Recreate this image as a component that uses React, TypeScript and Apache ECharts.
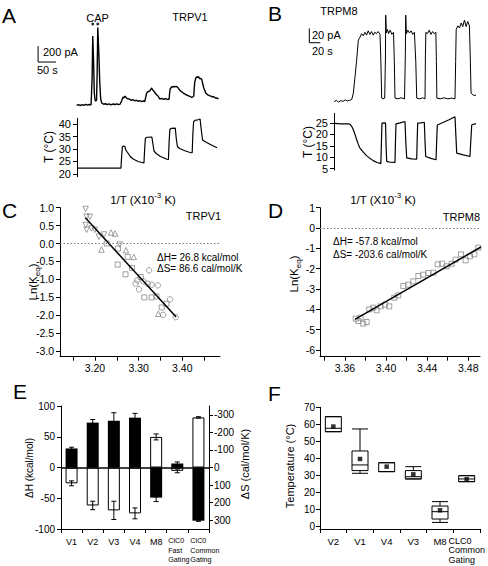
import React, { useEffect, useRef } from "react";
import * as echarts from "echarts";

const FONT = '"Liberation Sans", Arial, Helvetica, sans-serif';

// ---------------- Panel A : TRPV1 (time s, current pA, temperature °C) ----------------
const trpv1Current: [number, number][] = [
  [0, -6], [5, 4], [10, -8], [15, 6], [20, -4], [25, 8], [30, -2], [35, 6], [40, 2],
  [42.8, 312], [44.7, 862], [46.9, 562], [49, 150], [51.1, 62], [53, 50], [55.3, 62],
  [57, 420], [58.6, 969], [60.5, 760], [62.2, 562], [64, 300], [66.4, 88], [68.5, 40],
  [70.6, 19], [75, 10], [80, 16], [85, 4], [90, 14], [95, 2], [100, 12], [106.7, 6],
  [112, 14], [116, 4], [120.6, 10], [124.7, 50], [128.9, 100], [131, 88], [134.4, 112],
  [137, 94], [140, 81], [144, 76], [148.3, 69], [152, 58], [156, 66], [161.7, 52],
  [166, 60], [170, 46], [175, 56], [180, 42], [185, 50], [189, 44], [191.7, 100],
  [194.4, 150], [198, 168], [202.8, 175], [205.5, 196], [208.3, 212], [211, 188],
  [213.9, 176], [218, 150], [222.2, 125], [226, 112], [230.6, 75], [236, 82],
  [241.7, 70], [246, 80], [252.8, 69], [256.7, 75], [258, 150], [259.4, 200],
  [262, 218], [263.9, 230], [267, 222], [270, 236], [272.2, 226], [276, 232],
  [280.6, 220], [283, 205], [286.1, 188], [290, 170], [293, 160], [297.2, 144],
  [301, 135], [304, 126], [308.3, 119], [312, 110], [316, 104], [319.4, 94], [322, 100],
  [325, 112], [326.5, 220], [327.8, 288], [330.6, 338], [333, 350], [336.1, 344],
  [338, 356], [341.7, 325], [344, 334], [347.2, 320], [350, 262], [352.8, 212],
  [356, 178], [358, 150], [361.1, 138], [364, 126], [368, 118], [372.2, 112], [376, 100],
  [380, 104], [383.3, 94], [387, 82], [390, 88], [393.6, 75],
];
const trpv1Temperature: [number, number][] = [
  [0, 22.3], [60, 22.3], [122, 22.3], [124, 27], [126, 30.8], [129, 31.2], [133, 31],
  [136, 29.5], [139, 28.9], [148, 27], [157, 25.9], [170, 25], [186, 24.4], [188, 30],
  [190, 34.3], [195, 34.7], [208, 34.8], [211, 32], [214, 29.2], [220, 28.2], [232, 27],
  [250, 25.9], [254, 25.8], [256, 33], [258, 37.8], [262, 38.3], [273, 38.4], [276, 34],
  [279, 31], [285, 30.2], [300, 29.3], [316, 28.5], [320, 28.5], [322, 36], [324, 41],
  [330, 41.6], [336, 41.7], [342, 42], [345, 38], [349, 33.6], [360, 32.6], [375, 31.5],
  [389, 30.5],
];
const capMarkTimes = [44.7, 58.6];
const trpv1ScaleBar = { pA: 200, s: 50 };
const aTempTicks = [20, 25, 30, 35, 40];

// ---------------- Panel B : TRPM8 ----------------
const trpm8Current: [number, number][] = [
  [2, -1], [6, 1], [10, -1.5], [14, 0.5], [18, -0.5], [22, 1.5], [26, 0], [30, 1], [34, 2],
  [37, 11], [40, 34], [43, 57], [46, 85], [49, 89], [52, 94], [55, 91], [58, 96], [61, 92],
  [64, 98], [67, 93], [70, 97], [73, 92], [76, 96], [79, 94], [82, 97], [85.5, 93],
  [87, 55], [88.5, 4], [91, 3], [94, 4], [95.3, 60], [95.8, 120], [97, 95], [99, 100],
  [101, 94], [104, 99], [107, 93], [110, 96], [111.5, 55], [112.7, 4], [118, 3],
  [124, 4.5], [130, 3], [131.5, 64], [132.2, 120], [133.5, 94], [136, 99], [139, 95],
  [142, 98], [145, 93], [148, 96], [150.5, 55], [152.2, 4], [158, 3], [163, 4.5],
  [167.3, 3], [168, 64], [168.8, 96], [172, 94], [175, 99], [178, 93], [181, 97],
  [184, 94], [187, 96], [188, 55], [188.8, 4], [195, 3], [202, 4.5], [209, 3], [216, 4],
  [221.8, 3], [223, 55], [224, 100], [227, 105], [230, 102], [233, 109], [236, 104],
  [239, 113], [242, 104], [245, 111], [248, 105], [249.5, 64], [251, 11], [255, 8],
  [260, 8],
];
const trpm8Temperature: [number, number][] = [
  [3, 24.8], [15, 24.6], [28, 24.6], [31, 24.4], [34, 23.5], [37, 22], [40, 20],
  [43, 17.6], [46, 15.6], [49, 14], [55, 12.2], [61, 10.7], [67, 9.5], [73, 8.5],
  [80, 7.7], [87, 7.2], [88, 16], [89, 24.9], [95.5, 25], [96.5, 15], [97.6, 8.2],
  [104, 7.8], [112.7, 7.7], [113.5, 16], [114.5, 24.6], [122, 25], [130.9, 25.6],
  [132.5, 16], [134, 9.7], [143, 9.3], [152.2, 9.2], [153, 17], [154, 24.9], [160, 25],
  [166, 25.3], [167.3, 17], [168.5, 10.3], [178, 9.5], [187.3, 8.9], [188.5, 17],
  [189.6, 24.1], [200, 25.2], [211, 26.4], [221.8, 27.7], [223.5, 19], [224.9, 11.8],
  [237, 11], [249, 10.3], [250.5, 17], [252.2, 24.1], [256, 24.5], [260, 24.6],
];
const trpm8ScaleBar = { pA: 20, s: 20 };
const bTempTicks = [5, 10, 15, 20, 25];

// ---------------- Panel C : TRPV1 van't Hoff ----------------
const cDownTriangles: [number, number][] = [
  [3.1786, 0.963], [3.181, 0.748], [3.1885, 0.748], [3.179, 0.514], [3.181, 0.383],
  [3.192, 0.421], [3.2, 0.383], [3.209, 0.187], [3.221, 0.252], [3.257, -0.028],
];
const cUpTriangles: [number, number][] = [
  [3.215, -0.168], [3.237, 0.308], [3.246, 0.28], [3.271, -0.187], [3.289, -0.374],
  [3.345, -1.963],
];
const cSquares: [number, number][] = [
  [3.227, 0.0], [3.253, -0.14], [3.252, -0.589], [3.275, -0.374], [3.27, -0.86],
  [3.285, -0.682], [3.305, -0.935], [3.313, -1.505], [3.33, -1.505], [3.341, -1.477],
  [3.353, -1.785], [3.364, -1.682],
];
const cCircles: [number, number][] = [
  [3.324, -0.748], [3.293, -1.121], [3.301, -1.28], [3.297, -1.028], [3.311, -1.056],
  [3.321, -1.121], [3.33, -1.15], [3.344, -1.168], [3.372, -1.561], [3.356, -1.991],
  [3.385, -2.056],
];
const cFit: [number, number][] = [[3.178, 0.72], [3.386, -2.05]];
const cStats = { dH: "26.8", dS: "86.6" };
const cYTicks = [-3, -2.5, -2, -1.5, -1, -0.5, 0, 0.5, 1];
const cXTicks = [3.15, 3.2, 3.25, 3.3, 3.35, 3.4, 3.45];
const cXLabels = [3.2, 3.3, 3.4];

// ---------------- Panel D : TRPM8 van't Hoff ----------------
const dSquares: [number, number][] = [
  [3.3704, -4.459], [3.373, -4.574], [3.3752, -4.41], [3.3778, -4.705], [3.3811, -4.623],
  [3.3837, -4.0], [3.3876, -3.918], [3.3908, -4.049], [3.3947, -3.852], [3.3989, -3.77],
  [3.4031, -3.852], [3.408, -3.426], [3.4119, -3.311], [3.4168, -2.852], [3.4216, -2.787],
  [3.4265, -2.623], [3.4314, -2.361], [3.4362, -2.295], [3.4411, -2.213], [3.446, -2.197],
  [3.4502, -1.787], [3.4547, -1.754], [3.4589, -1.885], [3.4638, -1.754], [3.4677, -1.557],
  [3.4729, -1.295], [3.4774, -1.59], [3.4816, -1.393], [3.4859, -1.295], [3.4897, -0.967],
];
const dFit: [number, number][] = [[3.3697, -4.49], [3.4923, -0.934]];
const dStats = { dH: "-57.8", dS: "-203.6" };
const dYTicks = [-6, -5, -4, -3, -2, -1, 0, 1];
const dXTicks = [3.34, 3.36, 3.38, 3.4, 3.42, 3.44, 3.46, 3.48];
const dXLabels = [3.36, 3.4, 3.44, 3.48];

// ---------------- Panel E : ΔH / ΔS bars ----------------
const eCategories = ["V1", "V2", "V3", "V4", "M8", "ClC0\nFast\nGating", "ClC0\nCommon\nGating"];
const eDeltaH = [31, 73, 76, 81, -49, 6.5, -86.5];
const eDeltaHErr = [2, 5, 13, 7, 6.4, 2.5, 1];
const eDeltaS = [90, 216, 244, 261, -174, 19, -285];
const eDeltaSErr = [14, 24, 52, 31, 17, 11, 4];
const eRightTicks = [-300, -200, -100, 0, 100, 200, 300];

// ---------------- Panel F : activation temperature ----------------
const fCategories = ["V2", "V1", "V4", "V3", "M8", "CLC0\nCommon\nGating"];
const fBoxes = [
  [55.7, 55.7, 57.7, 64.5, 64.5],
  [31.3, 32.9, 36.2, 44.4, 57.3],
  [32.3, 32.3, 32.3, 37.5, 37.5],
  [28, 28, 29.3, 32.9, 35.2],
  [2.5, 4.5, 8.8, 12.1, 14.7],
  [26.4, 26.4, 28, 29.9, 29.9],
];
const fMeans = [58.7, 39.7, 35.2, 30.7, 9.6, 27.8];
const fYTicks = [0, 10, 20, 30, 40, 50, 60, 70];

// ---------------- layout helpers ----------------
const aScaleOrigin: [number, number] = [-107, 537];
const capMarkLevel = 1012;
const bScaleOrigin: [number, number] = [-43.1, 81.4];

function scalePath(o: [number, number], sx: number, sy: number) {
  return [[o[0], o[1] + sy], [o[0], o[1]], [o[0] + sx, o[1]]];
}

function hiddenAxis(gridIndex: number, min: number, max: number) {
  return { type: "value", gridIndex, min, max, show: false };
}

function visAxis(
  gridIndex: number, min: number, max: number, ticks: number[] | null,
  labels: number[] | null, fmt: (v: number) => string, fontSize: number, margin: number,
  extra: any = {}
) {
  const tick: any = { show: true, length: 4, lineStyle: { color: "#000", width: 1 } };
  if (ticks) tick.customValues = ticks;
  const label: any = { show: true, color: "#000", fontFamily: FONT, fontSize, margin, formatter: fmt };
  if (labels) label.customValues = labels;
  return {
    type: "value", gridIndex, min, max,
    axisLine: { show: true, onZero: false, lineStyle: { color: "#000", width: 1 } },
    axisTick: tick, axisLabel: label, splitLine: { show: false },
    ...extra,
  };
}

function catAxis(
  gridIndex: number, data: string[], fontSize: number, smallSize: number,
  margin: number, padFor: (i: number) => number
) {
  const base = { fontFamily: FONT, color: "#000" };
  return {
    type: "category", gridIndex, data,
    axisLine: { show: true, onZero: false, lineStyle: { color: "#000", width: 1 } },
    axisTick: { show: true, length: 4, alignWithLabel: false, lineStyle: { color: "#000", width: 1 } },
    axisLabel: {
      show: true, interval: 0, color: "#000", fontFamily: FONT, fontSize, margin,
      formatter: (v: string, i: number) => {
        if (v.indexOf("\n") < 0) return `{n|${v}}`;
        const key = padFor(i) > 6 ? "c" : "m";
        return v.split("\n").map((l) => `{${key}|${l}}`).join("\n");
      },
      rich: {
        n: { ...base, fontSize, lineHeight: 11 },
        m: { ...base, fontSize: smallSize, lineHeight: 9.5, align: "left", padding: [0, 0, 0, padFor(5)] },
        c: { ...base, fontSize: smallSize, lineHeight: 9.5, align: "left", padding: [0, 0, 0, padFor(6)] },
      },
    },
    splitLine: { show: false },
  };
}

function txt(x: number, y: number, text: string, fontSize: number, align = "left", extra: any = {}) {
  return {
    type: "text", x, y, silent: true, ...extra,
    style: { text, fill: "#000", fontFamily: FONT, fontSize, align, verticalAlign: "middle" },
  };
}

function richTxt(x: number, y: number, text: string, rotation: number, supDown: boolean) {
  return {
    type: "text", x, y, rotation, silent: true,
    style: {
      text, align: "center", verticalAlign: "middle", fill: "#000", fontFamily: FONT,
      rich: {
        n: { fontSize: 11.5, fontFamily: FONT, fill: "#000", lineHeight: 17 },
        s: { fontSize: 8, fontFamily: FONT, fill: "#000", lineHeight: 9, verticalAlign: supDown ? "bottom" : "top" },
      },
    },
  };
}

function errorSeries(xi: number, yi: number, vals: number[], errs: number[]) {
  return {
    type: "custom", xAxisIndex: xi, yAxisIndex: yi, z: 6, silent: true,
    data: vals.map((v, i) => [i, v, errs[i]]),
    encode: { x: 0, y: 1 },
    renderItem: (_p: any, api: any) => {
      const i = api.value(0), v = api.value(1), e = api.value(2);
      const a = api.coord([i, v + e]);
      const b = api.coord([i, v - e]);
      const st = { stroke: "#000", lineWidth: 1 };
      return {
        type: "group",
        children: [
          { type: "line", shape: { x1: a[0], y1: a[1], x2: b[0], y2: b[1] }, style: st },
          { type: "line", shape: { x1: a[0] - 2.5, y1: a[1], x2: a[0] + 2.5, y2: a[1] }, style: st },
          { type: "line", shape: { x1: b[0] - 2.5, y1: b[1], x2: b[0] + 2.5, y2: b[1] }, style: st },
        ],
      };
    },
  };
}

const hollow = (color = "#7a7a7a") => ({ color: "rgba(255,255,255,0)", borderColor: color, borderWidth: 0.9 });
const line = (xi: number, yi: number, data: any, width = 1, extra: any = {}) => ({
  type: "line", xAxisIndex: xi, yAxisIndex: yi, data, symbol: "none", silent: true,
  lineStyle: { color: "#000", width }, ...extra,
});
const zeroDotted = {
  silent: true, symbol: "none", label: { show: false },
  lineStyle: { color: "#777", type: [1.5, 2], width: 1 }, data: [{ yAxis: 0 }],
};

function buildOption(): any {
  const g = (left: number, top: number, width: number, height: number) =>
    ({ left, top, width, height, containLabel: false, outerBoundsMode: "none" });
  const f1 = (v: number) => v.toFixed(1);
  const f2 = (v: number) => v.toFixed(2);
  const f0 = (v: number) => String(Math.round(v));

  return {
    animation: false,
    backgroundColor: "#fff",
    textStyle: { fontFamily: FONT, color: "#000" },
    grid: [
      g(37, 18, 182, 92),
      g(77, 118.3, 140, 58.4),
      g(308, 12, 168, 92),
      g(334, 113.3, 142, 56.7),
      g(60, 207.7, 160, 149),
      g(320, 207.7, 160, 149),
      g(61, 406, 148, 123),
      g(320, 407.3, 160, 121.7),
    ],
    xAxis: [
      hiddenAxis(0, -110, 395),
      hiddenAxis(1, 0, 389),
      hiddenAxis(2, -45.5, 260),
      hiddenAxis(3, 1.8, 260),
      visAxis(4, 3.12, 3.4864, cXTicks, cXLabels, f2, 10.5, 6),
      visAxis(5, 3.3357, 3.4914, dXTicks, dXLabels, f2, 10.5, 6),
      catAxis(6, eCategories, 9, 7.2, 7, (i) => (i === 6 ? 13 : 3)),
      catAxis(7, fCategories, 9.5, 9, 7, () => 0),
    ],
    yAxis: [
      hiddenAxis(0, -62.5, 1087.5),
      visAxis(1, 18.9, 42.3, aTempTicks, aTempTicks, f0, 11, 6),
      hiddenAxis(2, -4.2, 124.3),
      visAxis(3, 4.4, 29.2, bTempTicks, bTempTicks, f0, 11, 6),
      visAxis(4, -3.16, 1.0, cYTicks, cYTicks, f1, 10.5, 6),
      visAxis(5, -6.33, 1, dYTicks, dYTicks, f0, 10.5, 5),
      visAxis(6, -100, 100, null, null, f0, 10, 6, { interval: 50 }),
      visAxis(6, -350, 350, eRightTicks, eRightTicks, f0, 10, 5, { inverse: true, position: "right" }),
      visAxis(7, -1.35, 70, fYTicks, fYTicks, f0, 10, 5),
    ],
    series: [
      // A
      line(0, 0, trpv1Current, 1.4),
      line(0, 0, scalePath(aScaleOrigin, trpv1ScaleBar.s, trpv1ScaleBar.pA), 1),
      {
        type: "scatter", xAxisIndex: 0, yAxisIndex: 0, silent: true, symbolSize: 3,
        itemStyle: { color: "#000" }, data: capMarkTimes.map((t) => [t, capMarkLevel]),
      },
      line(1, 1, trpv1Temperature, 1.2),
      // B
      line(2, 2, trpm8Current, 1),
      line(2, 2, scalePath(bScaleOrigin, trpm8ScaleBar.s, trpm8ScaleBar.pA), 1),
      line(3, 3, trpm8Temperature, 1.2),
      // C
      { type: "scatter", xAxisIndex: 4, yAxisIndex: 4, data: cDownTriangles, symbol: "triangle", symbolRotate: 180, symbolSize: 5.5, itemStyle: hollow(), silent: true },
      { type: "scatter", xAxisIndex: 4, yAxisIndex: 4, data: cUpTriangles, symbol: "triangle", symbolSize: 5.5, itemStyle: hollow(), silent: true },
      { type: "scatter", xAxisIndex: 4, yAxisIndex: 4, data: cSquares, symbol: "rect", symbolSize: 5, itemStyle: hollow(), silent: true },
      { type: "scatter", xAxisIndex: 4, yAxisIndex: 4, data: cCircles, symbol: "circle", symbolSize: 5.5, itemStyle: hollow(), silent: true },
      line(4, 4, cFit, 1.5, { z: 4, markLine: zeroDotted }),
      // D
      { type: "scatter", xAxisIndex: 5, yAxisIndex: 5, data: dSquares, symbol: "rect", symbolSize: 5, itemStyle: hollow(), silent: true },
      line(5, 5, dFit, 1.5, { z: 4, markLine: zeroDotted }),
      // E
      {
        type: "bar", xAxisIndex: 6, yAxisIndex: 6, data: eDeltaH, barWidth: 12, barGap: "-100%",
        itemStyle: { color: "#000" }, silent: true,
        markLine: {
          silent: true, symbol: "none", label: { show: false }, z: 7,
          lineStyle: { color: "#000", type: "solid", width: 1.5 }, data: [{ yAxis: 0 }],
        },
      },
      {
        type: "bar", xAxisIndex: 6, yAxisIndex: 7, data: eDeltaS, barWidth: 12, barGap: "-100%",
        itemStyle: { color: "#fff", borderColor: "#000", borderWidth: 1 }, silent: true,
      },
      errorSeries(6, 6, eDeltaH, eDeltaHErr),
      errorSeries(6, 7, eDeltaS, eDeltaSErr),
      // F
      {
        type: "boxplot", xAxisIndex: 7, yAxisIndex: 8, data: fBoxes, boxWidth: [16, 16], silent: true,
        itemStyle: { color: "#fff", borderColor: "#000", borderWidth: 1 },
      },
      {
        type: "scatter", xAxisIndex: 7, yAxisIndex: 8, symbol: "rect", symbolSize: 4.5, z: 5, silent: true,
        itemStyle: { color: "#000" }, data: fMeans.map((v, i) => [i, v]),
      },
    ],
    graphic: [
      txt(2, 15, "A", 21), txt(268, 13, "B", 21), txt(2, 210.5, "C", 21),
      txt(268, 210.5, "D", 21), txt(13, 391.5, "E", 21), txt(268, 393, "F", 21),
      // A
      txt(97.5, 17.5, "CAP", 11, "center"),
      txt(190, 16.5, "TRPV1", 11, "center"),
      txt(43, 52, `${trpv1ScaleBar.pA} pA`, 11),
      txt(37, 69.5, `${trpv1ScaleBar.s} s`, 11),
      txt(49, 147, "T (°C)", 12, "center", { rotation: Math.PI / 2 }),
      // B
      txt(339, 11, "TRPM8", 11, "center"),
      txt(312, 35, `${trpm8ScaleBar.pA} pA`, 11),
      txt(312, 51, `${trpm8ScaleBar.s} s`, 11),
      txt(307.5, 142, "T (°C)", 12, "center", { rotation: Math.PI / 2 }),
      // C
      richTxt(143, 200, "{n|1/T (X10}{s|-3}{n| K)}", 0, false),
      richTxt(32.5, 282, "{n|Ln(K}{s|eq}{n|)}", Math.PI / 2, true),
      txt(203.5, 216, "TRPV1", 11, "center"),
      txt(157, 257, `ΔH= ${cStats.dH} kcal/mol`, 10),
      txt(157, 268, `ΔS= ${cStats.dS} cal/mol/K`, 10),
      // D
      richTxt(383, 200, "{n|1/T (X10}{s|-3}{n| K)}", 0, false),
      richTxt(294, 274, "{n|Ln(K}{s|eq}{n|)}", Math.PI / 2, true),
      txt(461.5, 216.5, "TRPM8", 11, "center"),
      txt(333, 241.5, `ΔH= ${dStats.dH} kcal/mol`, 10),
      txt(333, 254.5, `ΔS= ${dStats.dS} cal/mol/K`, 10),
      // E
      txt(29, 468, "ΔH (kcal/mol)", 10, "center", { rotation: Math.PI / 2 }),
      txt(245, 464, "ΔS (cal/mol/K)", 11, "center", { rotation: Math.PI / 2 }),
      // F
      txt(290, 466, "Temperature (°C)", 11, "center", { rotation: Math.PI / 2 }),
    ],
  };
}

export default function App() {
  const ref = useRef<HTMLDivElement>(null);
  useEffect(() => {
    if (!ref.current) return;
    const chart = echarts.init(ref.current, null, { renderer: "svg" });
    chart.setOption(buildOption());
    return () => chart.dispose();
  }, []);
  return (
    <div
      ref={ref}
      style={{ position: "absolute", left: 0, top: 0, width: 488, height: 566, background: "#fff" }}
    />
  );
}
